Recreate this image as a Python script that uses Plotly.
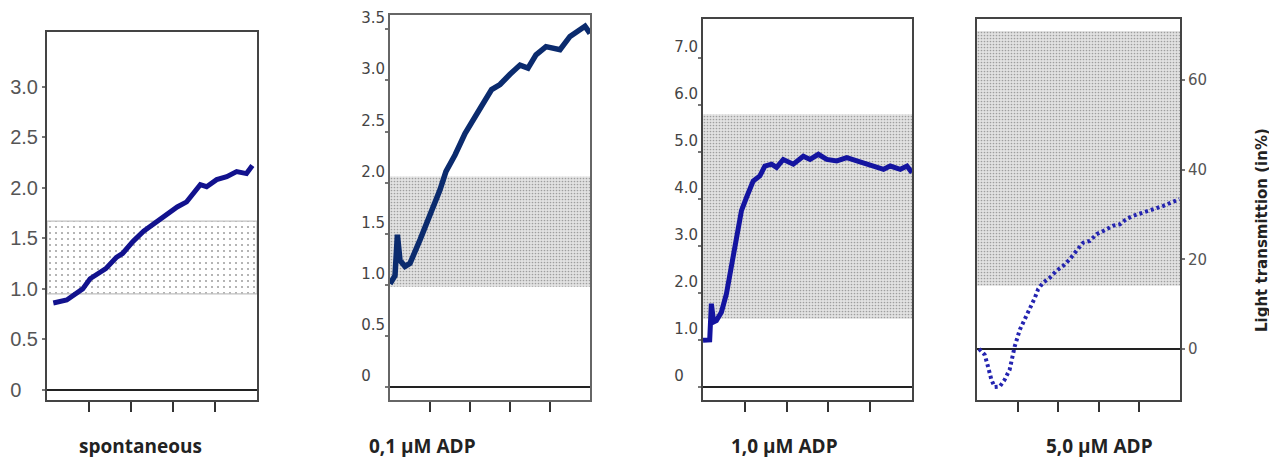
import plotly.graph_objects as go

# ---------------- data ----------------
panel_labels = ["spontaneous", "0,1 µM ADP", "1,0 µM ADP", "5,0 µM ADP"]
y_axis_title = "Light transmittion (in%)"

# spontaneous
spont_x = [3, 9.4, 17, 20.5, 28, 33, 36, 41, 46, 52, 57, 62, 66.5, 69.8, 73, 76, 80.8, 85.6, 90.3, 95, 97.8]
spont_y = [0.86, 0.89, 1.00, 1.10, 1.20, 1.31, 1.35, 1.47, 1.57, 1.66, 1.75, 1.81, 1.86, 1.94, 2.03, 2.01, 2.08, 2.11, 2.16, 2.14, 2.22]
spont_band = [0.95, 1.67]
spont_ticks = [0, 0.5, 1.0, 1.5, 2.0, 2.5, 3.0]
spont_ticktext = ["0\u00a0\u00a0\u00a0", "0.5", "1.0", "1.5", "2.0", "2.5", "3.0"]

# 0,1 µM ADP
adp01_x = [0, 2.5, 3.7, 5, 7.5, 10, 15, 20, 25, 28, 32.5, 37.5, 41.7, 45.8, 50.8, 55, 60, 65, 69, 73, 78, 85, 90, 95, 97.5, 100]
adp01_y = [1.01, 1.09, 1.49, 1.24, 1.18, 1.21, 1.44, 1.67, 1.93, 2.11, 2.27, 2.48, 2.63, 2.75, 2.91, 2.96, 3.06, 3.15, 3.12, 3.25, 3.33, 3.30, 3.43, 3.50, 3.53, 3.46]
adp01_band = [0.98, 2.06]
adp01_ticks = [0, 0.5, 1.0, 1.5, 2.0, 2.5, 3.0, 3.5]
adp01_ticktext = ["0\u00a0\u00a0\u00a0", "0.5", "1.0", "1.5", "2.0", "2.5", "3.0", "3.5"]

# 1,0 µM ADP
adp10_x = [0, 3.2, 4, 5.1, 6.4, 8.8, 11.2, 13.6, 16, 18.4, 20.8, 24, 27.2, 29.6, 32.8, 35.2, 38.4, 43.2, 48, 51.2, 55.2, 59.2, 64, 68.8, 73.6, 78.4, 83.2, 86.4, 89.6, 94.4, 97.6, 100]
adp10_y = [0.99, 1.00, 1.77, 1.38, 1.41, 1.59, 1.98, 2.55, 3.11, 3.75, 4.03, 4.38, 4.49, 4.70, 4.74, 4.67, 4.84, 4.74, 4.91, 4.84, 4.95, 4.84, 4.81, 4.88, 4.81, 4.74, 4.67, 4.63, 4.70, 4.63, 4.70, 4.56]
adp10_band = [1.45, 5.80]
adp10_ticks = [0, 1, 2, 3, 4, 5, 6, 7]
adp10_ticktext = ["0\u00a0\u00a0\u00a0", "1.0", "2.0", "3.0", "4.0", "5.0", "6.0", "7.0"]

# 5,0 µM ADP (light transmission %)
adp50_x = [1, 3.8, 5.4, 7.1, 8.7, 11.2, 13.6, 16.1, 18.6, 21.1, 23.5, 26, 28.5, 30.1, 32.6, 35.9, 39.1, 42.4, 45.7, 49, 52.3, 55.6, 58.9, 62.2, 67.1, 70.4, 73.7, 77, 81.9, 86.8, 91.8, 95.9, 99.7]
adp50_y = [0, -1.3, -3.9, -6.9, -8.5, -8.4, -6.9, -4.6, 0.6, 4.3, 6.6, 8.8, 11.4, 13.3, 14.8, 15.9, 17.4, 18.5, 20.0, 21.9, 23.7, 24.1, 25.6, 26.3, 27.5, 27.8, 29.0, 29.7, 30.4, 31.2, 31.9, 32.7, 33.4]
adp50_band = [14.1, 70.9]
adp50_ticks = [0, 20, 40, 60]
adp50_ticktext = ["0", "20", "40", "60"]

x_ticks = [20, 40, 60, 80]

# ---------------- layout geometry ----------------
W, H = 1277, 457
OFF = 8  # page body margin offset
def xd(a, b):
    return [(a - OFF) / W, (b - OFF) / W]
def yd(top, bottom):
    return [(H - (bottom - OFF)) / H, (H - (top - OFF)) / H]
def px(a):
    return (a - OFF) / W
def py(a):
    return (H - (a - OFF)) / H

dense = dict(shape=".", size=3, solidity=0.25, fgcolor="#5a5a5a", bgcolor="#e2e2e2")

panels = [
    dict(x=spont_x, y=spont_y, band=spont_band, ticks=spont_ticks, ticktext=spont_ticktext,
         xdom=xd(47, 257), ydom=yd(32, 400), yrange=[-0.099, 3.54],
         color="#12128e", width=5, dash="solid", side="left",
         font=dict(family="Liberation Sans, Arial", size=20, color="#555"), tlpos="outside",
         fill=dict(shape=".", size=6, solidity=0.1, fgcolor="#444", bgcolor="white"),
         bandline="#c0c0c0", linecolor="#444", label_x=140),
    dict(x=adp01_x, y=adp01_y, band=adp01_band, ticks=adp01_ticks, ticktext=adp01_ticktext,
         xdom=xd(390, 590), ydom=yd(15, 400), yrange=[-0.127, 3.64],
         color="#0b2b6e", width=5.5, dash="solid", side="left",
         font=dict(family="DejaVu Sans", size=15, color="#444"), tlpos="outside top",
         fill=dense, bandline=None, linecolor="#666", label_x=422),
    dict(x=adp10_x, y=adp10_y, band=adp10_band, ticks=adp10_ticks, ticktext=adp10_ticktext,
         xdom=xd(703, 912), ydom=yd(19, 400), yrange=[-0.28, 7.83],
         color="#1414a0", width=5, dash="solid", side="left",
         font=dict(family="DejaVu Sans", size=15, color="#444"), tlpos="outside top",
         fill=dense, bandline=None, linecolor="#444", label_x=784),
    dict(x=adp50_x, y=adp50_y, band=adp50_band, ticks=adp50_ticks, ticktext=adp50_ticktext,
         xdom=xd(977, 1180), ydom=yd(19, 400), yrange=[-11.4, 73.6],
         color="#2424b0", width=4, dash="3px,3px", side="right",
         font=dict(family="DejaVu Sans", size=15, color="#555"), tlpos="outside",
         fill=dense, bandline=None, linecolor="#444", label_x=1099),
]

fig = go.Figure()
for i, p in enumerate(panels, start=1):
    xa = "x" if i == 1 else f"x{i}"
    ya = "y" if i == 1 else f"y{i}"
    lo, hi = p["band"]
    fig.add_trace(go.Scatter(
        x=[0, 100, 100, 0, 0], y=[lo, lo, hi, hi, lo], xaxis=xa, yaxis=ya,
        mode="lines", fill="toself", fillcolor="rgba(0,0,0,0)",
        fillpattern=p["fill"],
        line=dict(color=p["bandline"] or "rgba(0,0,0,0)", width=1.2),
        hoverinfo="skip", showlegend=False))
    fig.add_trace(go.Scatter(
        x=p["x"], y=p["y"], xaxis=xa, yaxis=ya, mode="lines",
        line=dict(color=p["color"], width=p["width"], dash=p["dash"]),
        showlegend=False))

    fig.layout[f"xaxis{'' if i == 1 else i}"] = dict(
        domain=p["xdom"], range=[0, 100], anchor=ya, automargin=False,
        showgrid=False, zeroline=False, showline=True, mirror=True,
        linecolor=p["linecolor"], linewidth=2,
        tickmode="array", tickvals=x_ticks, showticklabels=False,
        ticks="outside", ticklen=10, tickwidth=2, tickcolor="#333")
    fig.layout[f"yaxis{'' if i == 1 else i}"] = dict(
        domain=p["ydom"], range=p["yrange"], anchor=xa, side=p["side"], automargin=False,
        showgrid=False, zeroline=True, zerolinecolor="#222", zerolinewidth=2,
        showline=True, mirror=True, linecolor=p["linecolor"], linewidth=2,
        tickmode="array", tickvals=p["ticks"], ticktext=p["ticktext"],
        ticks="outside", ticklen=3, tickwidth=1.5, tickcolor="#777",
        tickfont=p["font"], ticklabelposition=p["tlpos"])

    fig.add_annotation(text=f"<b>{panel_labels[i-1]}</b>", x=px(p["label_x"]), y=py(446),
                       xref="paper", yref="paper", showarrow=False,
                       font=dict(family="Open Sans", size=19, color="#222"),
                       xanchor="center", yanchor="middle")

fig.add_annotation(text=f"<b>{y_axis_title}</b>", x=px(1262), y=py(230),
                   xref="paper", yref="paper", showarrow=False, textangle=-90,
                   font=dict(family="DejaVu Sans", size=15, color="#222"),
                   xanchor="center", yanchor="middle")

fig.update_layout(width=W, height=H, margin=dict(l=0, r=0, t=0, b=0, autoexpand=False),
                  paper_bgcolor="white", plot_bgcolor="white")

fig.write_html("out.html")
